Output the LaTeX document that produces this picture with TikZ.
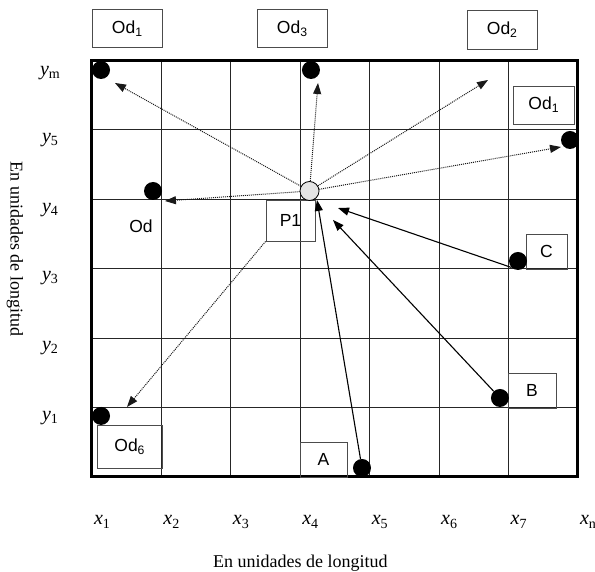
\documentclass[tikz,border=0pt]{standalone}
\usepackage{fontspec}
\setmainfont{Liberation Serif}
\setsansfont{Liberation Sans}
\usetikzlibrary{arrows.meta}
\newcommand{\lowsub}[1]{\raisebox{-0.35ex}{\scalebox{0.7}{#1}}}

\begin{document}
\begin{tikzpicture}[
  x=69.43pt, y=69.43pt,
  >={Triangle[length=11pt,width=8pt]},
  cell/.style ={line width=1.1pt,draw=black!85},
  outer/.style={line width=3pt,draw=black},
  obox/.style ={draw=black!70,line width=0.9pt,inner sep=0pt,
                font=\sffamily\fontsize{17.5}{19}\selectfont},
  dot/.style  ={circle,fill=black,inner sep=0pt,minimum size=18pt},
  pdot/.style ={circle,draw,fill=gray!20,line width=0.8pt,inner sep=0pt,
                minimum size=19pt},
  ax/.style   ={font=\fontsize{20}{22}\selectfont},
  lab/.style  ={font=\fontsize{18}{20}\selectfont},
  ray/.style  ={->,line width=1pt,draw=black!90,dash pattern=on 1pt off 1pt},
  walk/.style ={->,line width=1.1pt},
]
\useasboundingbox (-1.325,-1.368) rectangle (7.245,6.870);

%% =====================================================
%%  Grid (x1..xn, y1..ym)
%% =====================================================
\draw[cell,xstep=1,ystep=1] (0,0) grid (7,6);
\draw[outer] (0,0) rectangle (7,6);

%% =====================================================
%%  Labelled boxes
%% =====================================================
\node[obox,minimum width=70pt,minimum height=38pt] (odtl) at (0.504,6.453) {Od\lowsub{1}};
\node[obox,minimum width=70pt,minimum height=38pt] (odtm) at (2.881,6.453) {Od\lowsub{3}};
\node[obox,minimum width=70pt,minimum height=39pt] (odtr) at (5.905,6.445) {Od\lowsub{2}};
\node[obox,minimum width=61pt,minimum height=38pt] (odin) at (6.503,5.358) {Od\lowsub{1}};
\node[obox,minimum width=65pt,minimum height=43pt] (odsix) at (0.540,0.439) {Od\lowsub{6}};
\node[obox,minimum width=49pt,minimum height=41pt] (pbox) at (2.859,3.694) {P1};
\node[obox,minimum width=41pt,minimum height=35pt] (cbox) at (6.546,3.248) {C};
\node[obox,minimum width=48pt,minimum height=35pt] (bbox) at (6.337,1.246) {B};
\node[obox,minimum width=47pt,minimum height=35pt] (abox) at (3.334,0.252) {A};
\node[font=\sffamily\fontsize{17.5}{19}\selectfont] (od) at (0.706,3.615) {Od};

%% =====================================================
%%  Points
%% =====================================================
\node[dot] (dtl)  at (0.130,5.862) {};
\node[dot] (dtm)  at (3.154,5.862) {};
\node[dot] (dr)   at (6.885,4.854) {};
\node[dot] (dl)   at (0.879,4.119) {};
\node[dot] (dbl)  at (0.130,0.879) {};
\node[dot] (dC)   at (6.136,3.111) {};
\node[dot] (dB)   at (5.876,1.138) {};
\node[dot] (dA)   at (3.889,0.130) {};

% arrow ends
\coordinate (etl) at (0.331,5.675);
\coordinate (etm) at (3.255,5.675);
\coordinate (etr) at (5.704,5.718);
\coordinate (er)  at (6.755,4.753);
\coordinate (el)  at (1.051,3.975);
\coordinate (ebl) at (0.504,1.008);
\coordinate (eA)  at (3.241,3.990);
\coordinate (eB)  at (3.471,3.702);
\coordinate (eC)  at (3.543,3.874);

%% =====================================================
%%  Rays out of P1 (dotted)
%% =====================================================
\node[pdot] (p1) at (3.133,4.119) {};
\draw[ray] (p1) -- (etl);
\draw[ray] (p1) -- (etm);
\draw[ray] (p1) -- (etr);
\draw[ray] (p1) -- (er);
\draw[ray] (p1) -- (el);
\draw[ray] (pbox.south west) -- (ebl);

%% =====================================================
%%  A, B, C towards P1
%% =====================================================
\draw[walk] (dA) -- (eA);
\draw[walk] (dB) -- (eB);
\draw[walk] (dC.south west) -- (eC);

%% =====================================================
%%  Axis labels
%% =====================================================
\node[ax] (xa) at (0.144,-0.648) {\textit{x}\lowsub{1}};
\node[ax] (xb) at (1.144,-0.648) {\textit{x}\lowsub{2}};
\node[ax] (xc) at (2.144,-0.648) {\textit{x}\lowsub{3}};
\node[ax] (xd) at (3.144,-0.648) {\textit{x}\lowsub{4}};
\node[ax] (xe) at (4.144,-0.648) {\textit{x}\lowsub{5}};
\node[ax] (xf) at (5.144,-0.648) {\textit{x}\lowsub{6}};
\node[ax] (xg) at (6.144,-0.648) {\textit{x}\lowsub{7}};
\node[ax] (xn) at (7.144,-0.648) {\textit{x}\lowsub{n}};

\node[ax] (ym) at (-0.605,5.819) {\textit{y}\lowsub{m}};
\node[ax] (ye) at (-0.605,4.854) {\textit{y}\lowsub{5}};
\node[ax] (yd) at (-0.605,3.846) {\textit{y}\lowsub{4}};
\node[ax] (yc) at (-0.605,2.866) {\textit{y}\lowsub{3}};
\node[ax] (yb) at (-0.605,1.858) {\textit{y}\lowsub{2}};
\node[ax] (ya) at (-0.605,0.850) {\textit{y}\lowsub{1}};

\node[lab] (xlab) at (3.0,-1.239) {En unidades de longitud};
\node[lab,rotate=-90] (ylab) at (-1.109,3.284) {En unidades de longitud};

\end{tikzpicture}
\end{document}
